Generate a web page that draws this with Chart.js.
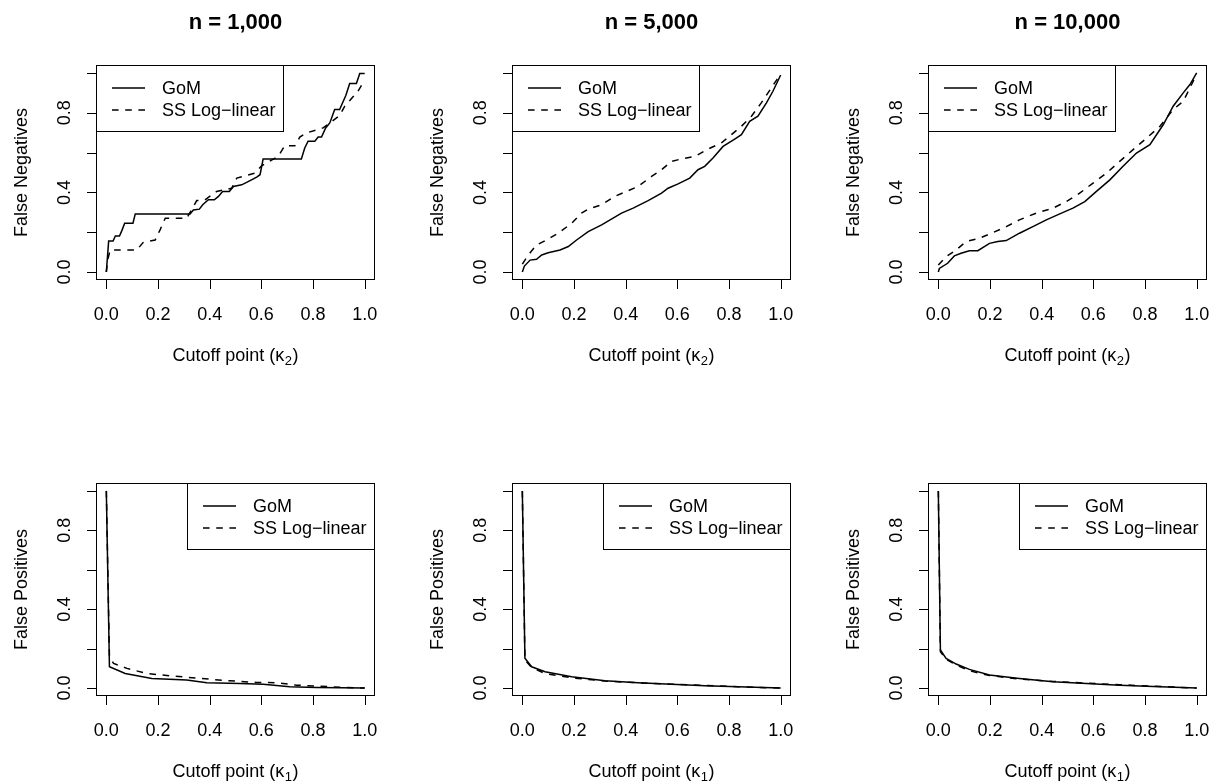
<!DOCTYPE html>
<html><head><meta charset="utf-8">
<script src="https://cdn.jsdelivr.net/npm/chart.js@4"></script>
<style>
body{margin:0;background:#fff;width:1212px;height:782px;overflow:hidden;position:relative}
canvas{position:absolute}
</style>
</head><body>
<script>
// ---------- DATA ----------
const panelTitles = ['n = 1,000', 'n = 5,000', 'n = 10,000'];
const seriesLabels = ['GoM', 'SS Log\u2212linear'];
const yTitles = ['False Negatives', 'False Positives'];
const xTitleSubs = ['2', '1'];
const xTickValues = [0, 0.2, 0.4, 0.6, 0.8, 1.0];
const xTickLabels = ['0.0', '0.2', '0.4', '0.6', '0.8', '1.0'];
const yTickValues = [0, 0.2, 0.4, 0.6, 0.8, 1.0];
const yTickLabels = ['0.0', '', '0.4', '', '0.8', ''];

// Top row: false negatives vs cutoff kappa2
const fn1000GomX = [0,0.009,0.026,0.035,0.051,0.06,0.071,0.103,0.112,0.324,0.337,0.36,0.373,0.395,0.418,0.434,0.45,0.476,0.492,0.524,0.543,0.562,0.582,0.595,0.607,0.755,0.768,0.781,0.807,0.82,0.833,0.849,0.865,0.884,0.903,0.927,0.942,0.968,0.981,1.0];
const fn1000GomY = [0,0.156,0.156,0.181,0.181,0.208,0.245,0.245,0.292,0.292,0.312,0.316,0.338,0.363,0.363,0.38,0.405,0.405,0.43,0.438,0.45,0.463,0.477,0.489,0.568,0.568,0.623,0.657,0.657,0.678,0.678,0.724,0.749,0.816,0.816,0.887,0.947,0.947,0.997,0.997];
const fn1000SsX = [0,0.005,0.015,0.118,0.142,0.189,0.208,0.228,0.311,0.35,0.382,0.427,0.485,0.505,0.575,0.601,0.665,0.691,0.73,0.749,0.775,0.839,0.865,0.903,0.923,0.955,0.974,1.0];
const fn1000SsY = [0,0.06,0.111,0.111,0.148,0.161,0.212,0.27,0.27,0.359,0.363,0.405,0.421,0.472,0.497,0.534,0.581,0.635,0.635,0.678,0.699,0.724,0.749,0.786,0.833,0.88,0.908,0.964];

const fn5000GomX = [0,0.008,0.03,0.055,0.075,0.1,0.146,0.178,0.21,0.255,0.307,0.384,0.429,0.487,0.539,0.564,0.603,0.648,0.68,0.706,0.738,0.777,0.822,0.848,0.88,0.912,0.945,0.97,1.0];
const fn5000GomY = [0,0.03,0.06,0.064,0.086,0.097,0.111,0.128,0.161,0.203,0.237,0.296,0.321,0.359,0.396,0.421,0.443,0.472,0.514,0.531,0.573,0.631,0.668,0.69,0.757,0.783,0.85,0.908,0.99];
const fn5000SsX = [0,0.023,0.055,0.094,0.139,0.191,0.229,0.255,0.307,0.358,0.403,0.448,0.5,0.539,0.577,0.616,0.668,0.719,0.77,0.809,0.848,0.887,0.925,0.964,1.0];
const fn5000SsY = [0.04,0.086,0.136,0.161,0.195,0.245,0.296,0.316,0.338,0.38,0.405,0.43,0.48,0.514,0.556,0.568,0.581,0.618,0.648,0.69,0.732,0.783,0.85,0.925,0.995];

const fn10000GomX = [0,0.004,0.036,0.062,0.088,0.12,0.153,0.198,0.23,0.263,0.314,0.366,0.418,0.47,0.521,0.567,0.612,0.664,0.715,0.767,0.819,0.871,0.909,0.948,0.974,1.0];
const fn10000GomY = [0,0.018,0.044,0.081,0.094,0.107,0.107,0.144,0.153,0.158,0.195,0.228,0.262,0.292,0.321,0.354,0.405,0.463,0.531,0.598,0.64,0.741,0.833,0.9,0.942,1.0];
const fn10000SsX = [0,0.03,0.069,0.107,0.159,0.211,0.263,0.314,0.379,0.444,0.495,0.547,0.599,0.651,0.702,0.754,0.806,0.858,0.909,0.948,0.974,1.0];
const fn10000SsY = [0.035,0.077,0.111,0.153,0.17,0.198,0.228,0.262,0.296,0.321,0.354,0.396,0.447,0.497,0.556,0.615,0.673,0.732,0.816,0.858,0.925,0.995];

// Bottom row: false positives vs cutoff kappa1
const fp1000GomX = [0,0.012,0.073,0.176,0.311,0.389,0.517,0.607,0.71,0.813,1.0];
const fp1000GomY = [1.0,0.108,0.074,0.049,0.041,0.027,0.024,0.02,0.007,0.003,0];
const fp1000SsX = [0,0.012,0.028,0.08,0.157,0.26,0.363,0.479,0.582,0.659,0.736,0.865,1.0];
const fp1000SsY = [1.0,0.159,0.125,0.1,0.074,0.061,0.049,0.037,0.029,0.027,0.015,0.007,0];

const fp5000GomX = [0,0.01,0.036,0.088,0.191,0.32,0.448,0.577,0.706,0.835,1.0];
const fp5000GomY = [1.0,0.151,0.108,0.083,0.058,0.037,0.027,0.019,0.012,0.007,0];
const fp5000SsX = [0,0.01,0.036,0.088,0.191,0.32,0.448,0.577,0.706,0.835,1.0];
const fp5000SsY = [1.0,0.142,0.105,0.074,0.052,0.036,0.027,0.02,0.014,0.007,0];

const fp10000GomX = [0,0.008,0.03,0.069,0.12,0.198,0.314,0.444,0.573,0.702,0.832,1.0];
const fp10000GomY = [1.0,0.193,0.151,0.122,0.095,0.066,0.049,0.032,0.024,0.015,0.008,0];
const fp10000SsX = [0,0.008,0.03,0.069,0.12,0.198,0.314,0.444,0.573,0.702,0.832,1.0];
const fp10000SsY = [1.0,0.184,0.146,0.117,0.088,0.064,0.046,0.034,0.025,0.017,0.01,0];

// ---------- LAYOUT ----------
const FONT = '"Liberation Sans", Arial, Helvetica, sans-serif';
const colLefts = [0, 416, 832];
const rows = [
  {top:0, height:400, pad:{left:96,right:5,top:65,bottom:120}, legend:'topleft', title:true, yTitle:yTitles[0], sub:xTitleSubs[0],
   series:[[fn1000GomX,fn1000GomY,fn1000SsX,fn1000SsY],[fn5000GomX,fn5000GomY,fn5000SsX,fn5000SsY],[fn10000GomX,fn10000GomY,fn10000SsX,fn10000SsY]]},
  {top:418, height:364, pad:{left:96,right:5,top:65,bottom:86}, legend:'topright', title:false, yTitle:yTitles[1], sub:xTitleSubs[1],
   series:[[fp1000GomX,fp1000GomY,fp1000SsX,fp1000SsY],[fp5000GomX,fp5000GomY,fp5000SsX,fp5000SsY],[fp10000GomX,fp10000GomY,fp10000SsX,fp10000SsY]]}
];

const rPlot = {
  id: 'rPlot',
  afterDraw(chart) {
    const o = chart.options.plugins.rPlot;
    const ctx = chart.ctx, a = chart.chartArea;
    const xs = chart.scales.x, ys = chart.scales.y;
    const L = Math.round(a.left), R = Math.round(a.right), T = Math.round(a.top), B = Math.round(a.bottom);
    ctx.save();
    ctx.strokeStyle = '#000'; ctx.fillStyle = '#000'; ctx.lineWidth = 1; ctx.setLineDash([]);
    // box
    ctx.strokeRect(L + 0.5, T + 0.5, R - L - 1, B - T - 1);
    // x ticks
    ctx.font = '18px ' + FONT;
    ctx.textAlign = 'center'; ctx.textBaseline = 'alphabetic';
    ctx.beginPath();
    xs.ticks.forEach(t => {
      const px = Math.round(xs.getPixelForValue(t.value)) + 0.5;
      ctx.moveTo(px, B); ctx.lineTo(px, B + 9);
    });
    ctx.stroke();
    xs.ticks.forEach((t, i) => {
      const px = xs.getPixelForValue(t.value);
      ctx.fillText(xTickLabels[i], px, B + 40);
    });
    // y ticks
    ctx.beginPath();
    ys.ticks.forEach(t => {
      const py = Math.round(ys.getPixelForValue(t.value)) + 0.5;
      ctx.moveTo(L, py); ctx.lineTo(L - 9, py);
    });
    ctx.stroke();
    ys.ticks.forEach((t, i) => {
      if (!yTickLabels[i]) return;
      const py = ys.getPixelForValue(t.value);
      ctx.save(); ctx.translate(L - 26, py); ctx.rotate(-Math.PI / 2);
      ctx.fillText(yTickLabels[i], 0, 0); ctx.restore();
    });
    // y title
    ctx.save(); ctx.translate(L - 69, (T + B) / 2); ctx.rotate(-Math.PI / 2);
    ctx.fillText(o.yTitle, 0, 0); ctx.restore();
    // x title with subscript
    const p1 = 'Cutoff point (', p2 = '\u03BA', p4 = ')';
    const f18 = '18px ' + FONT, f13 = '13px ' + FONT;
    ctx.font = f18;
    const w1 = ctx.measureText(p1).width, w2 = ctx.measureText(p2).width, w4 = ctx.measureText(p4).width;
    ctx.font = f13; const w3 = ctx.measureText(o.sub).width;
    let x0 = (L + R) / 2 - (w1 + w2 + w3 + w4 + 1) / 2;
    const by = B + 80.5;
    ctx.textAlign = 'left';
    ctx.font = f18; ctx.fillText(p1, x0, by); x0 += w1;
    ctx.fillText(p2, x0, by); x0 += w2 + 0.5;
    ctx.font = f13; ctx.fillText(o.sub, x0, by + 4); x0 += w3 + 0.5;
    ctx.font = f18; ctx.fillText(p4, x0, by);
    // title
    if (o.title) {
      ctx.textAlign = 'center';
      ctx.font = 'bold 22px ' + FONT;
      ctx.fillText(o.title, (L + R) / 2, 29);
    }
    // legend
    const LW = 187, LH = 66;
    const lx = o.legend === 'topleft' ? L : R - 1 - LW;
    const ly = T;
    ctx.lineWidth = 1;
    ctx.strokeRect(lx + 0.5, ly + 0.5, LW, LH);
    ctx.font = f18; ctx.textAlign = 'left'; ctx.textBaseline = 'middle';
    chart.data.datasets.forEach((ds, i) => {
      const yy = ly + 23 + i * 22;
      ctx.beginPath();
      ctx.lineWidth = ds.borderWidth;
      ctx.setLineDash(ds.borderDash || []);
      ctx.moveTo(lx + 16, yy); ctx.lineTo(lx + 49, yy);
      ctx.stroke();
      ctx.setLineDash([]);
      ctx.fillText(ds.label, lx + 66, yy + 1);
    });
    ctx.restore();
  }
};

function toPts(xa, ya) { return xa.map((x, i) => ({x: x, y: ya[i]})); }

rows.forEach((row, ri) => {
  colLefts.forEach((cl, ci) => {
    const cv = document.createElement('canvas');
    cv.width = 380; cv.height = row.height;
    cv.style.left = cl + 'px'; cv.style.top = row.top + 'px';
    cv.style.width = '380px'; cv.style.height = row.height + 'px';
    document.body.appendChild(cv);
    const s = row.series[ci];
    new Chart(cv, {
      type: 'line',
      data: {datasets: [
        {label: seriesLabels[0], data: toPts(s[0], s[1]), borderColor: '#000', borderWidth: 1.5, pointRadius: 0, fill: false, tension: 0},
        {label: seriesLabels[1], data: toPts(s[2], s[3]), borderColor: '#000', borderWidth: 1.5, borderDash: [6.6, 6.6], pointRadius: 0, fill: false, tension: 0}
      ]},
      options: {
        responsive: false, animation: false, devicePixelRatio: 1, events: [],
        layout: {padding: row.pad},
        scales: {
          x: {type: 'linear', min: -0.04, max: 1.04, display: false,
              afterBuildTicks: sc => { sc.ticks = xTickValues.map(v => ({value: v})); }},
          y: {type: 'linear', min: -0.04, max: 1.04, display: false,
              afterBuildTicks: sc => { sc.ticks = yTickValues.map(v => ({value: v})); }}
        },
        plugins: {
          legend: {display: false}, tooltip: {enabled: false},
          rPlot: {title: row.title ? panelTitles[ci] : null, yTitle: row.yTitle, sub: row.sub, legend: row.legend}
        }
      },
      plugins: [rPlot]
    });
  });
});
</script>
</body></html>
